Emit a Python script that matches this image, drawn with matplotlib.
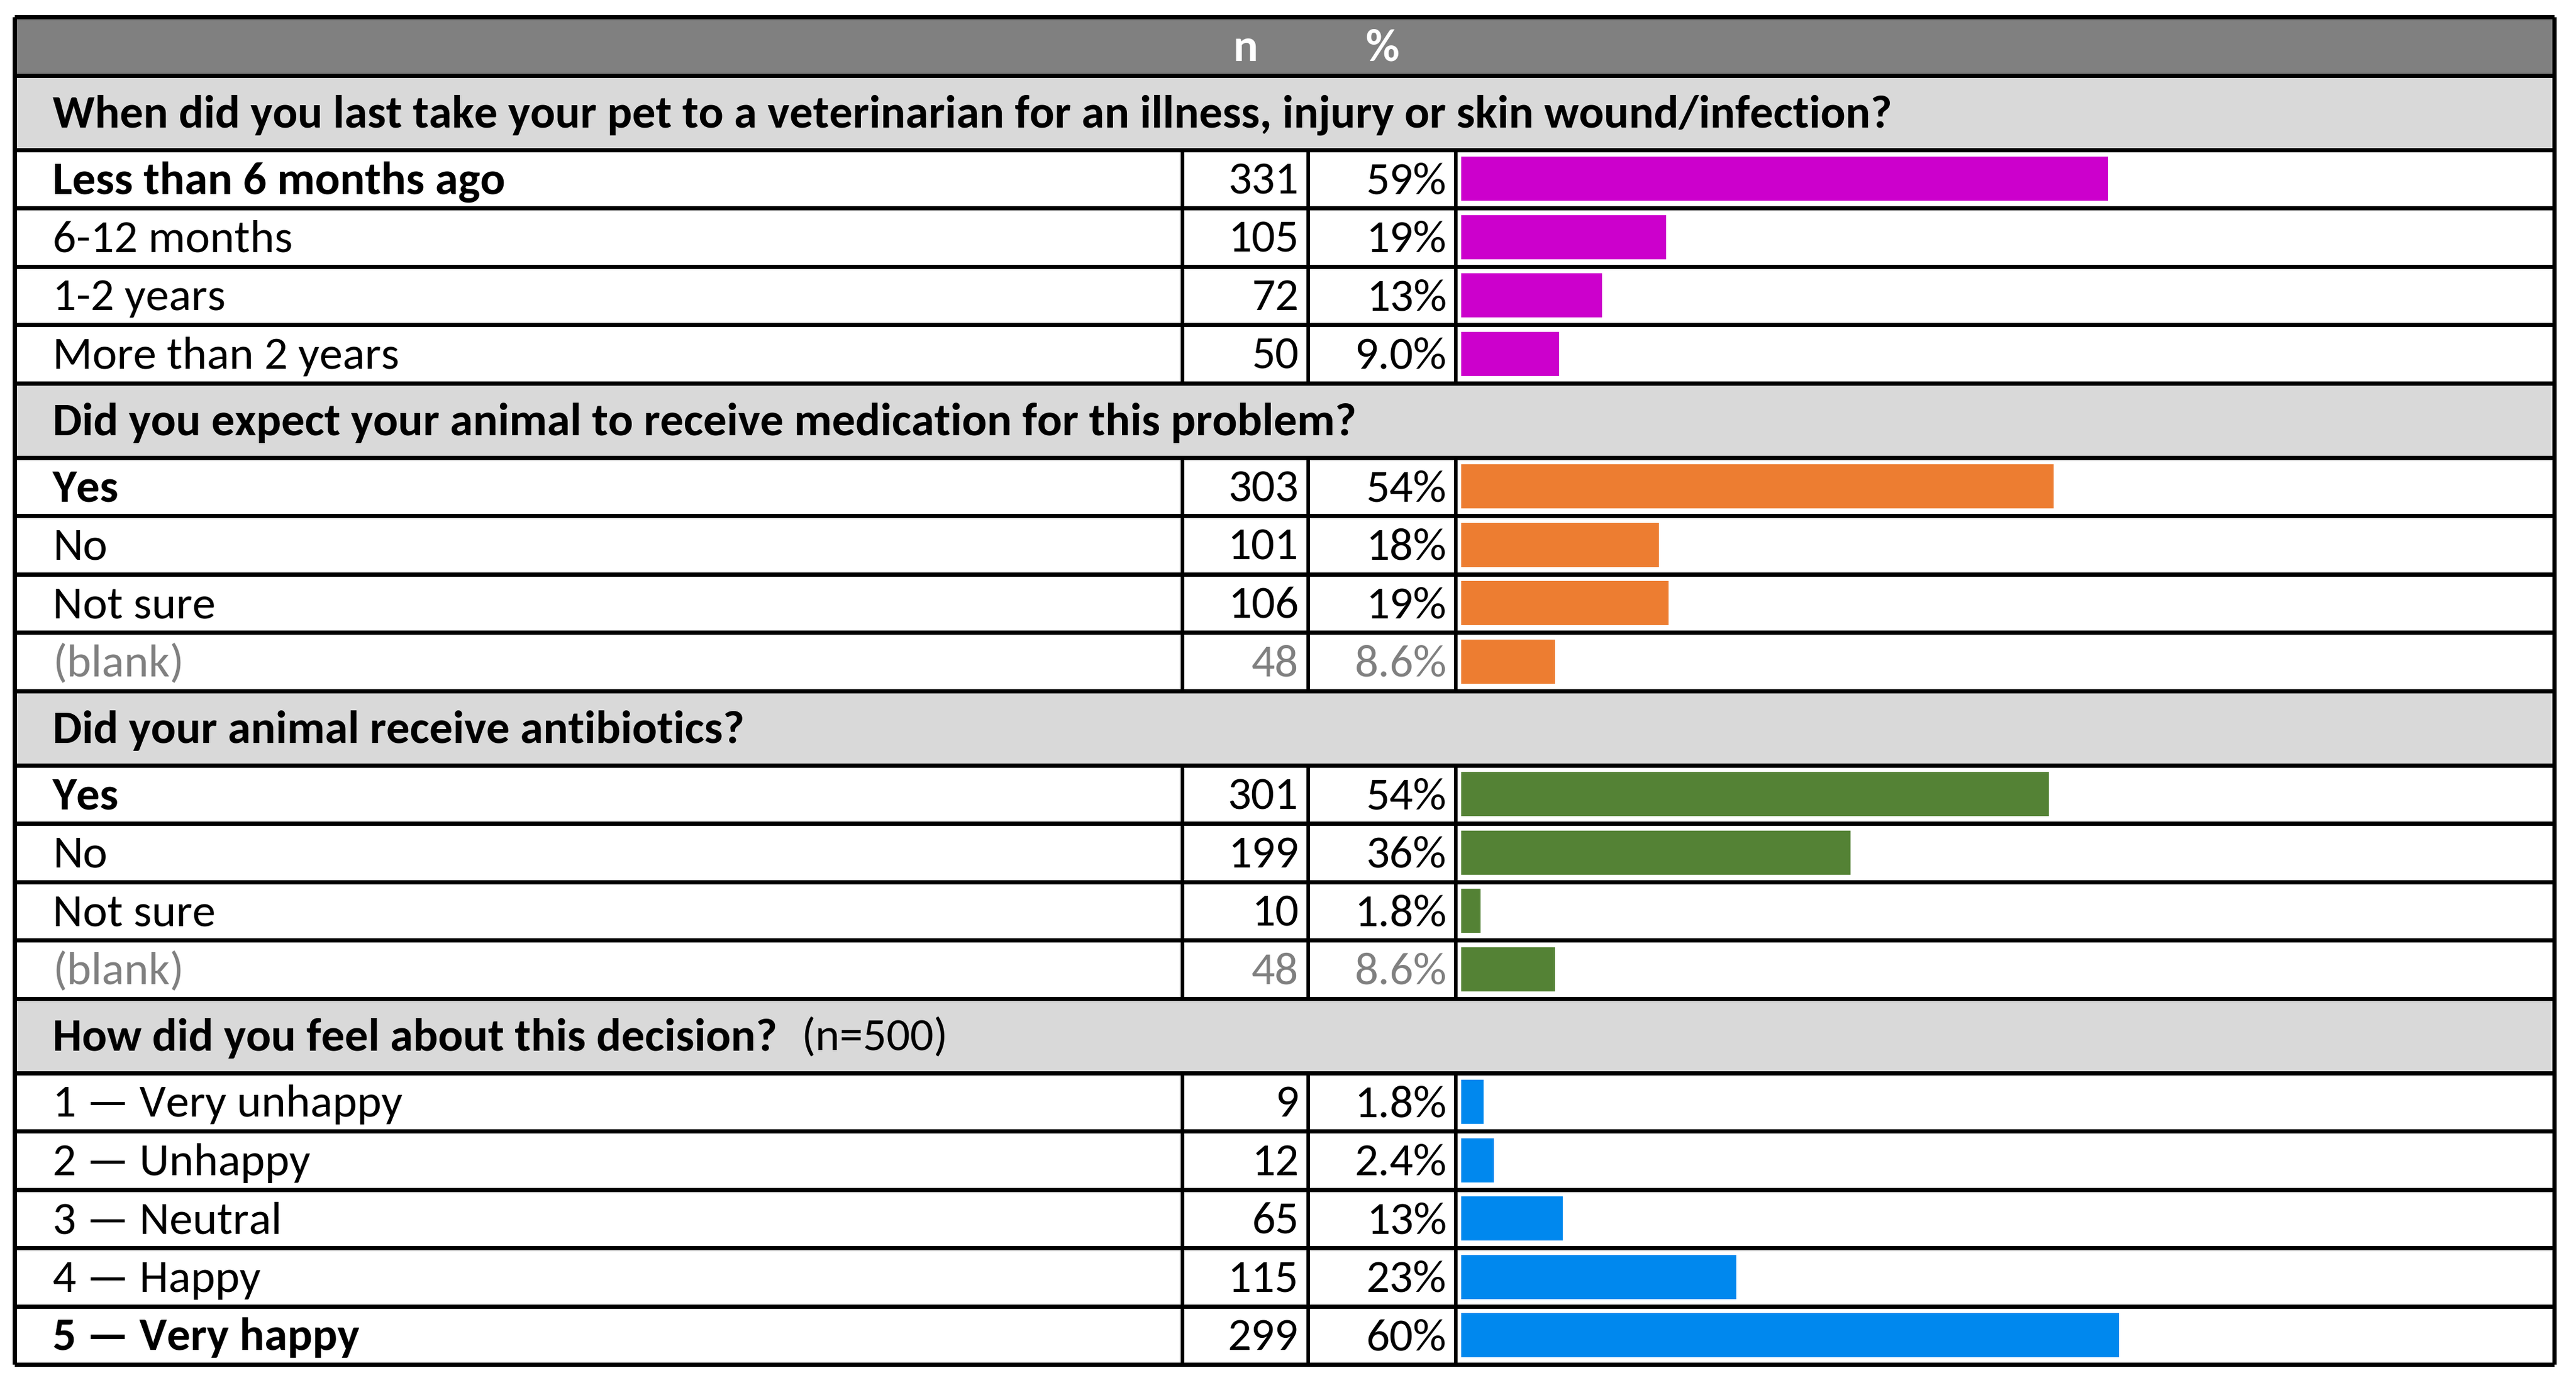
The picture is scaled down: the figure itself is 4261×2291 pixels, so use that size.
import matplotlib
matplotlib.use("Agg")
import matplotlib.pyplot as plt
from matplotlib import font_manager as fm
from matplotlib.patches import Rectangle
from matplotlib.textpath import TextPath

# ---------------- data ----------------
section_titles = [
    "When did you last take your pet to a veterinarian for an illness, injury or skin wound/infection?",
    "Did you expect your animal to receive medication for this problem?",
    "Did your animal receive antibiotics?",
    "How did you feel about this decision?",
]
section_notes = ["", "", "", "(n=500)"]

s1_labels = ["Less than 6 months ago", "6-12 months", "1-2 years", "More than 2 years"]
s1_n = [331, 105, 72, 50]
s1_pct_text = ["59%", "19%", "13%", "9.0%"]
s1_bar = [59.3, 18.8, 12.9, 9.0]

s2_labels = ["Yes", "No", "Not sure", "(blank)"]
s2_n = [303, 101, 106, 48]
s2_pct_text = ["54%", "18%", "19%", "8.6%"]
s2_bar = [54.3, 18.1, 19.0, 8.6]

s3_labels = ["Yes", "No", "Not sure", "(blank)"]
s3_n = [301, 199, 10, 48]
s3_pct_text = ["54%", "36%", "1.8%", "8.6%"]
s3_bar = [53.9, 35.7, 1.8, 8.6]

s4_labels = ["1 \u2014 Very unhappy", "2 \u2014 Unhappy", "3 \u2014 Neutral", "4 \u2014 Happy", "5 \u2014 Very happy"]
s4_n = [9, 12, 65, 115, 299]
s4_pct_text = ["1.8%", "2.4%", "13%", "23%", "60%"]
s4_bar = [2.05, 3.0, 9.3, 25.2, 60.3]

bold_labels = {"Less than 6 months ago", "Yes", "5 \u2014 Very happy"}
gray_labels = {"(blank)"}

section_colors = ["#CC00CC", "#ED7D31", "#548235", "#0088EE"]
header_cols = ["n", "%"]

sections = [
    (s1_labels, s1_n, s1_pct_text, s1_bar),
    (s2_labels, s2_n, s2_pct_text, s2_bar),
    (s3_labels, s3_n, s3_pct_text, s3_bar),
    (s4_labels, s4_n, s4_pct_text, s4_bar),
]

# ---------------- layout ----------------
W, H, DPI = 4261, 2291, 100
X_L, X_R = 24, 4224.5
X_COL1, X_COL2, X_COL3 = 1956, 2164, 2408
BAR_X0, BAR_X100 = 2417, 4221
TOP = 27.5
HDR_H = 97
SEC_H = 123
ROW_H = 96.5
BAR_H = 73
LW_H = 7 * 72 / DPI
LW_V = 6 * 72 / DPI
TEXT_X = 87
N_RIGHT = 2148
P_RIGHT = 2393


def pick_font(names):
    for n in names:
        try:
            fm.findfont(fm.FontProperties(family=n), fallback_to_default=False)
            return n
        except Exception:
            pass
    return "DejaVu Sans"


FONT = pick_font(["Carlito", "Calibri", "Liberation Sans Narrow", "Lato", "Open Sans"])

fig = plt.figure(figsize=(W / DPI, H / DPI), dpi=DPI)
renderer = fig.canvas.get_renderer()

# fit font size so the longest title matches the reference width
probe = fig.text(0, 0, section_titles[0], fontsize=56, fontweight="bold", family=FONT)
w_probe = probe.get_window_extent(renderer).width
probe.remove()
FS = 56 * 3130 / w_probe * 0.972
cap_bb = TextPath((0, 0), "H", size=FS, prop=fm.FontProperties(family=FONT)).get_extents()
CAP = cap_bb.height * DPI / 72.0

ax = fig.add_axes([0, 0, 1, 1])
ax.set_xlim(0, W)
ax.set_ylim(H, 0)
ax.axis("off")

bx = fig.add_axes([BAR_X0 / W, 0, (BAR_X100 - BAR_X0) / W, 1])
bx.set_xlim(0, 100)
bx.set_ylim(H, 0)
bx.axis("off")


def put(x, yc, s, ha="left", weight="normal", color="black"):
    return ax.text(x, yc + CAP / 2, s, ha=ha, va="baseline", fontsize=FS,
                   fontweight=weight, color=color, family=FONT)


# header
y = TOP
ax.add_patch(Rectangle((X_L, y), X_R - X_L, HDR_H, facecolor="#808080", edgecolor="none"))
hc = y + HDR_H / 2
put((X_COL1 + X_COL2) / 2, hc, header_cols[0], ha="center", weight="bold", color="white")
put((X_COL2 + X_COL3) / 2, hc, header_cols[1], ha="center", weight="bold", color="white")
ax.hlines(y, X_L, X_R, color="black", lw=LW_H)
y += HDR_H

for si, (labels, ns, ptxt, bars) in enumerate(sections):
    # section header row
    ax.add_patch(Rectangle((X_L, y), X_R - X_L, SEC_H, facecolor="#D9D9D9", edgecolor="none"))
    ax.hlines(y, X_L, X_R, color="black", lw=LW_H)
    t = put(TEXT_X, y + SEC_H / 2, section_titles[si], weight="bold")
    if section_notes[si]:
        fig.canvas.draw()
        bb = t.get_window_extent(renderer)
        put(bb.x1 + 40, y + SEC_H / 2, section_notes[si])
    y += SEC_H
    row_top = y
    centers = []
    for li, lab in enumerate(labels):
        yc = y + ROW_H / 2
        centers.append(yc)
        col = "#808080" if lab in gray_labels else "black"
        wt = "bold" if (lab in bold_labels) else "normal"
        put(TEXT_X, yc, lab, weight=wt, color=col)
        put(N_RIGHT, yc, str(ns[li]), ha="right", color=col)
        put(P_RIGHT, yc, ptxt[li], ha="right", color=col)
        ax.hlines(y, X_L, X_R, color="black", lw=LW_H)
        y += ROW_H
    bx.barh(centers, bars, height=BAR_H, left=0, color=section_colors[si], edgecolor="none")
    for xv in (X_COL1, X_COL2, X_COL3):
        ax.vlines(xv, row_top, y, color="black", lw=LW_V)

ax.hlines(y, X_L, X_R, color="black", lw=LW_H)
ax.vlines([X_L, X_R], TOP, y, color="black", lw=LW_H)

fig.savefig("out.png", dpi=DPI)
